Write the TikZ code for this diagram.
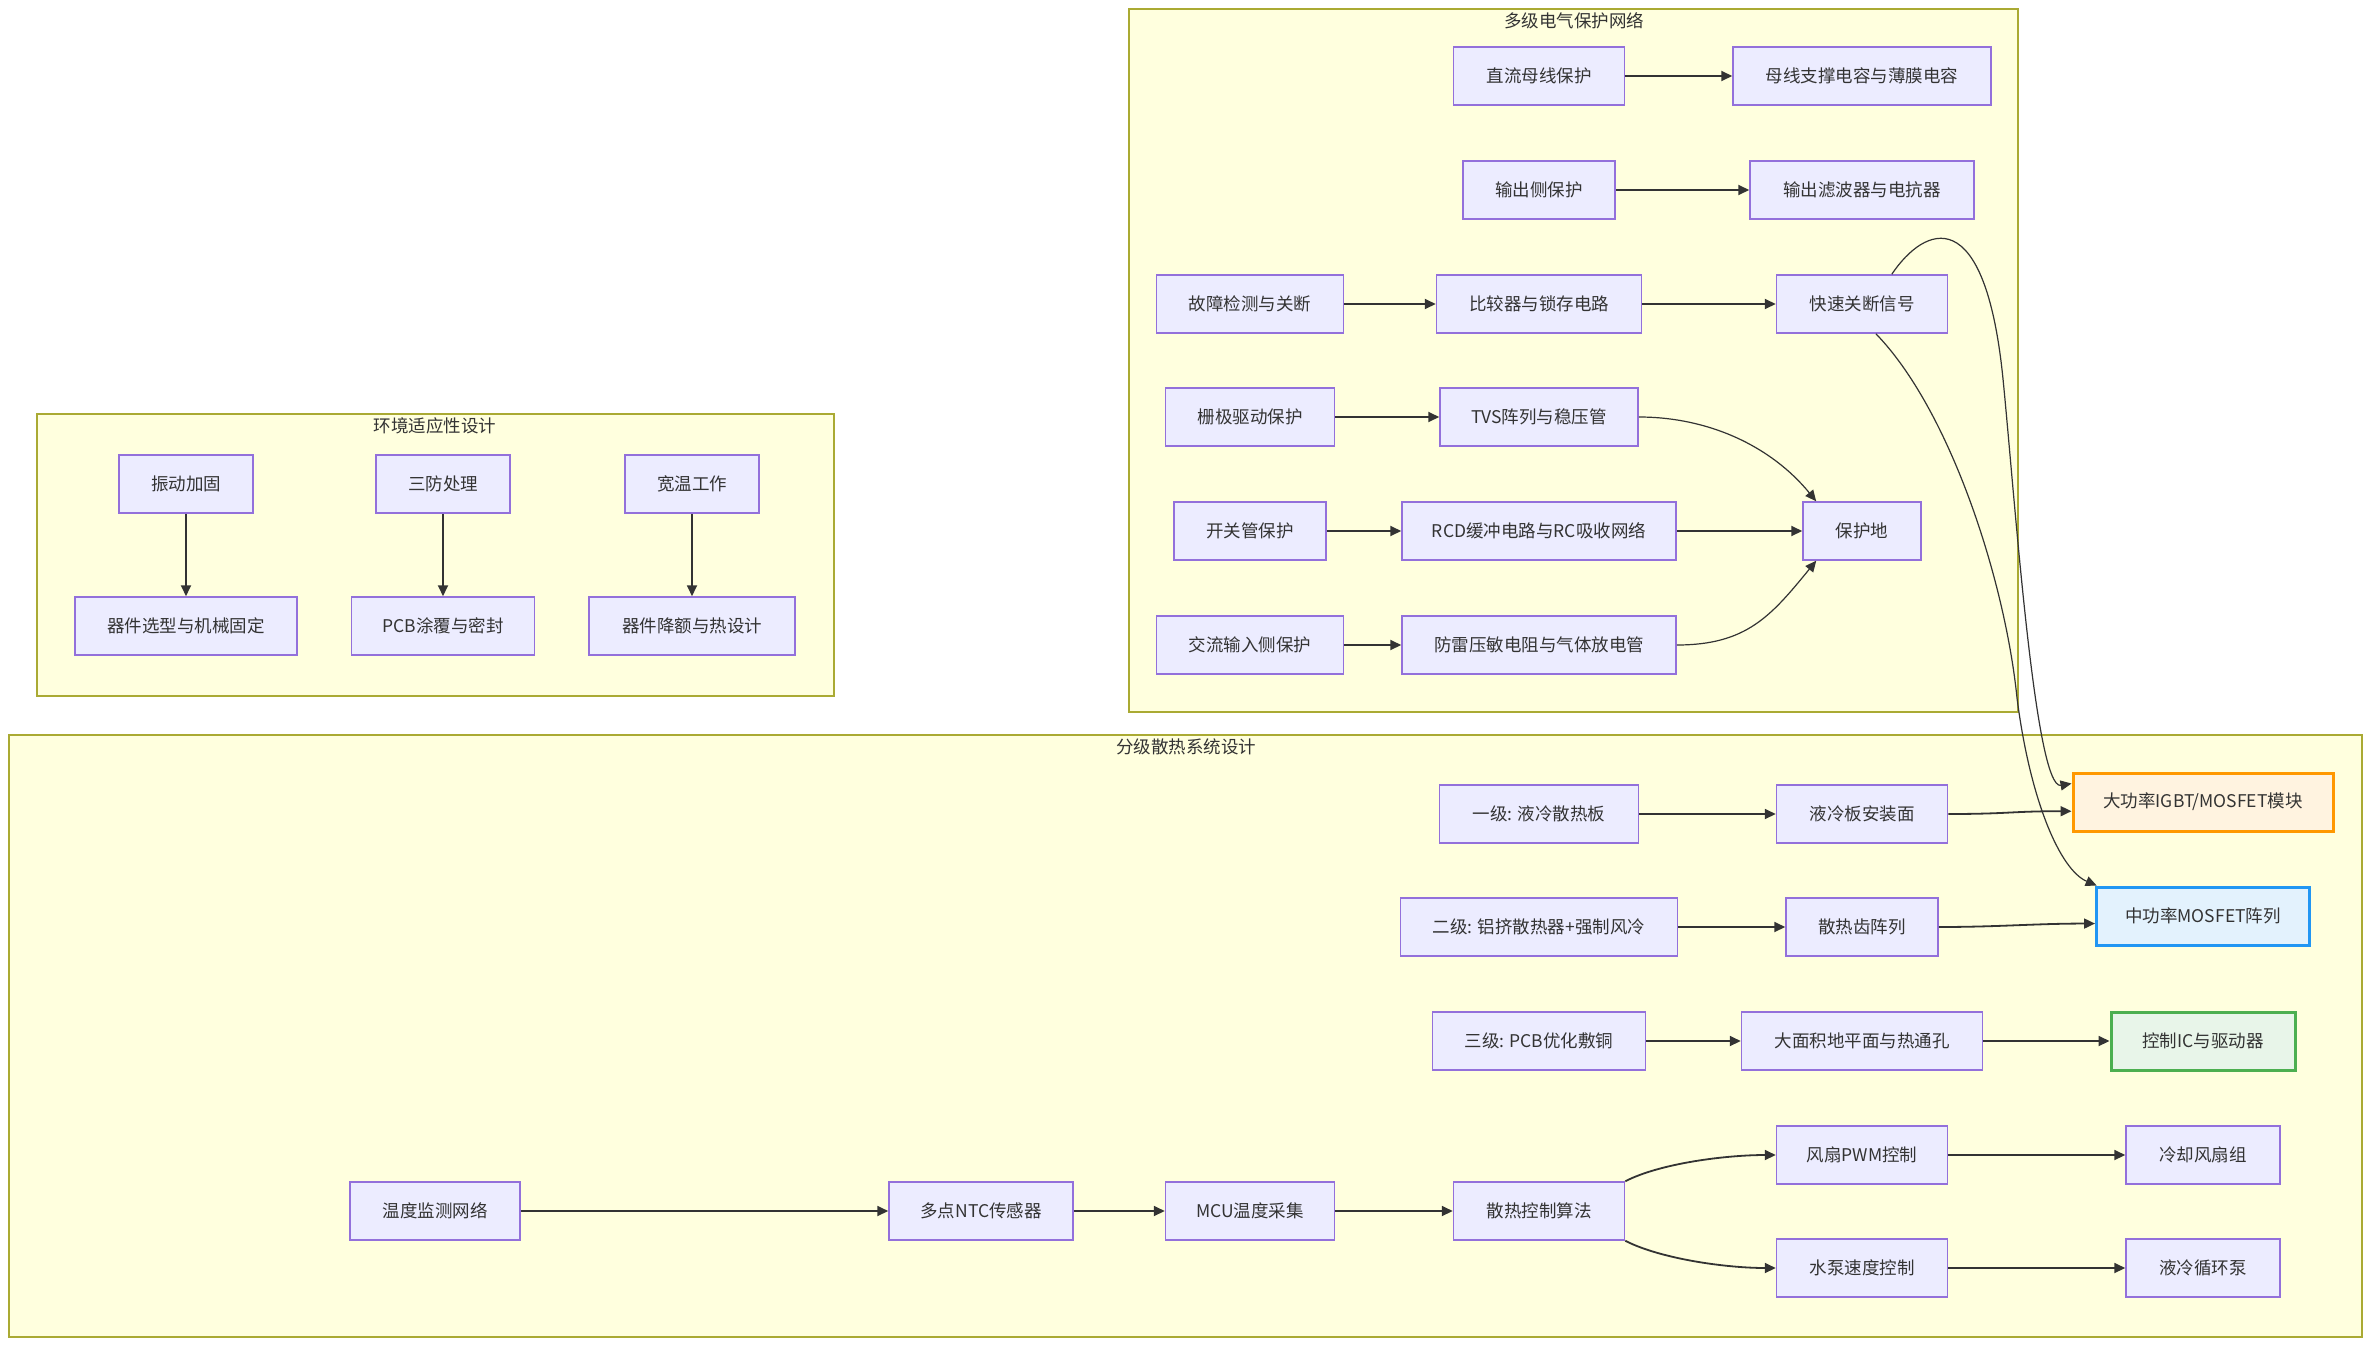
\documentclass[tikz,border=0pt]{standalone}
\usepackage{fontspec}
\setmainfont{Noto Sans CJK SC}
\usetikzlibrary{arrows.meta}
\definecolor{nodefill}{HTML}{ECECFF}
\definecolor{nodeline}{HTML}{9370DB}
\definecolor{clfill}{HTML}{FFFFDE}
\definecolor{clline}{HTML}{AAAA33}
\definecolor{txt}{HTML}{333333}
\definecolor{edgec}{HTML}{333333}
\definecolor{orfill}{HTML}{FFF3E0}
\definecolor{orline}{HTML}{FF9800}
\definecolor{blfill}{HTML}{E3F2FD}
\definecolor{blline}{HTML}{2196F3}
\definecolor{grfill}{HTML}{E8F5E9}
\definecolor{grline}{HTML}{4CAF50}
\tikzset{
  box/.style={draw=nodeline, fill=nodefill, line width=1.5pt, minimum height=58pt, inner sep=0pt, text=txt},
  bw/.style={minimum width=#1pt},
  clbox/.style={draw=clline, fill=clfill, line width=1.5pt},
  cltitle/.style={text=txt, inner sep=0pt},
  arr/.style={draw=edgec, line width=1.8pt, -{Triangle[length=11pt,width=10pt]}},
  arrc/.style={draw=edgec, line width=1.2pt, -{Triangle[length=11pt,width=10pt]}},
  hot/.style={line width=3pt, draw=orline, fill=orfill},
  mid/.style={line width=3pt, draw=blline, fill=blfill},
  low/.style={line width=3pt, draw=grline, fill=grfill}
}
\begin{document}
\begin{tikzpicture}[x=1pt,y=-1pt, font=\fontsize{17.5}{20}\selectfont]
\useasboundingbox (0,0) rectangle (2368,1346);
\fill[white] (0,0) rectangle (2368,1346);
% clusters
\draw[clbox] (1129,9) rectangle (2018,712);
\node[cltitle] (tA) at (1574,21) {多级电气保护网络};
\draw[clbox] (37,414) rectangle (834,696);
\node[cltitle] (tB) at (435,426) {环境适应性设计};
\draw[clbox] (9,735) rectangle (2362,1337);
\node[cltitle] (tC) at (1186,747) {分级散热系统设计};
% cluster A nodes
\node[box,bw=171] (A1) at (1539,76) {直流母线保护};
\node[box,bw=258] (A2) at (1862,76) {母线支撑电容与薄膜电容};
\node[box,bw=152] (A3) at (1539,190) {输出侧保护};
\node[box,bw=224] (A4) at (1862,190) {输出滤波器与电抗器};
\node[box,bw=187] (A5) at (1250,304) {故障检测与关断};
\node[box,bw=205] (A6) at (1539,304) {比较器与锁存电路};
\node[box,bw=171] (A7) at (1862,304) {快速关断信号};
\node[box,bw=169] (A8) at (1250,417) {栅极驱动保护};
\node[box,bw=198] (A9) at (1539,417) {TVS阵列与稳压管};
\node[box,bw=152] (A10) at (1250,531) {开关管保护};
\node[box,bw=274] (A11) at (1539,531) {RCD缓冲电路与RC吸收网络};
\node[box,bw=118] (A12) at (1862,531) {保护地};
\node[box,bw=187] (A13) at (1250,645) {交流输入侧保护};
\node[box,bw=274] (A14) at (1539,645) {防雷压敏电阻与气体放电管};
% cluster B nodes
\node[box,bw=134] (B1) at (186,484) {振动加固};
\node[box,bw=134] (B2) at (443,484) {三防处理};
\node[box,bw=134] (B3) at (692,484) {宽温工作};
\node[box,bw=222] (B4) at (186,626) {器件选型与机械固定};
\node[box,bw=183] (B5) at (443,626) {PCB涂覆与密封};
\node[box,bw=206] (B6) at (692,626) {器件降额与热设计};
% cluster C nodes
\node[box,bw=199] (C1) at (1539,814) {一级: 液冷散热板};
\node[box,bw=171] (C2) at (1862,814) {液冷板安装面};
\node[box,hot,bw=260] (C3) at (2203,802) {大功率IGBT/MOSFET模块};
\node[box,bw=277] (C4) at (1539,927) {二级: 铝挤散热器+强制风冷};
\node[box,bw=152] (C5) at (1862,927) {散热齿阵列};
\node[box,mid,bw=213] (C6) at (2203,916) {中功率MOSFET阵列};
\node[box,bw=213] (C7) at (1539,1041) {三级: PCB优化敷铜};
\node[box,bw=241] (C8) at (1862,1041) {大面积地平面与热通孔};
\node[box,low,bw=184] (C9) at (2203,1041) {控制IC与驱动器};
\node[box,bw=170] (C10) at (435,1211) {温度监测网络};
\node[box,bw=184] (C11) at (981,1211) {多点NTC传感器};
\node[box,bw=169] (C12) at (1250,1211) {MCU温度采集};
\node[box,bw=171] (C13) at (1539,1211) {散热控制算法};
\node[box,bw=171] (C14) at (1862,1155) {风扇PWM控制};
\node[box,bw=154] (C15) at (2203,1155) {冷却风扇组};
\node[box,bw=171] (C16) at (1862,1268) {水泵速度控制};
\node[box,bw=154] (C17) at (2203,1268) {液冷循环泵};
% edges cluster A
\draw[arr] (A1) -- (A2);
\draw[arr] (A3) -- (A4);
\draw[arr] (A5) -- (A6);
\draw[arr] (A6) -- (A7);
\draw[arr] (A8) -- (A9);
\draw[arrc] (A9.east) .. controls +(70,0) and +(-45,-55) .. (A12.147);
\draw[arr] (A10) -- (A11);
\draw[arr] (A11) -- (A12);
\draw[arr] (A13) -- (A14);
\draw[arrc] (A14.east) .. controls +(70,0) and +(-45,55) .. (A12.213);
% long edges
\draw[arrc] (A7.45) .. controls (1925,225) and (1985,200) .. (2003,379)
   .. controls (2015,500) and (2035,790) .. (C3.172);
\draw[arrc] (A7.-65) .. controls (1950,410) and (2005,580) .. (2017,698)
   .. controls (2030,800) and (2060,870) .. (C6.164);
% edges cluster B
\draw[arr] (B1) -- (B4);
\draw[arr] (B2) -- (B5);
\draw[arr] (B3) -- (B6);
% edges cluster C
\draw[arr] (C1) -- (C2);
\draw[arr] (C2.east) .. controls +(60,0) and +(-60,0) .. (C3.184);
\draw[arr] (C4) -- (C5);
\draw[arr] (C5.east) .. controls +(60,0) and +(-60,0) .. (C6.184);
\draw[arr] (C7) -- (C8);
\draw[arr] (C8) -- (C9);
\draw[arr] (C10) -- (C11);
\draw[arr] (C11) -- (C12);
\draw[arr] (C12) -- (C13);
\draw[arr] (C13.north east) .. controls +(35,-18) and +(-50,0) .. (C14.west);
\draw[arr] (C13.south east) .. controls +(35,18) and +(-50,0) .. (C16.west);
\draw[arr] (C14) -- (C15);
\draw[arr] (C16) -- (C17);
\end{tikzpicture}
\end{document}
